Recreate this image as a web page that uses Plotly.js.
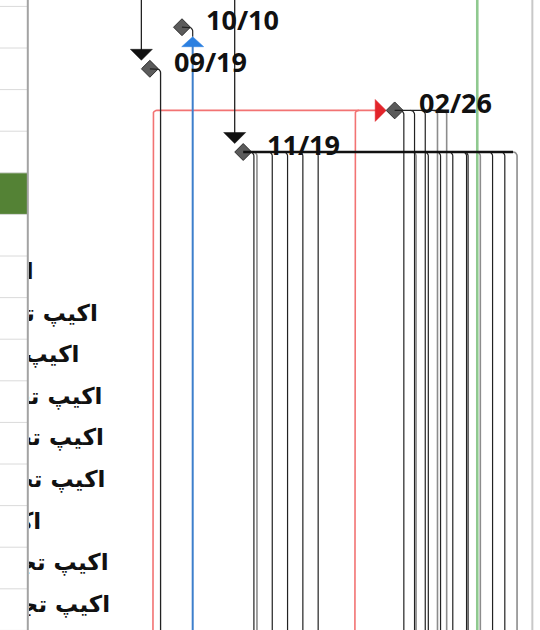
<!DOCTYPE html>
<html><head><meta charset="utf-8">
<script src="https://cdn.plot.ly/plotly-3.0.1.min.js"></script>
<style>html,body{margin:0;padding:0;background:#fff;}#chart{width:540px;height:630px;}</style>
</head><body><div id="chart"></div>
<script>
// ---------------- data ----------------
const milestoneLabels = ['10/10', '09/19', '02/26', '11/19'];
const milestoneDates  = ['2023-10-10', '2023-09-19', '2024-02-26', '2023-11-19'];
const milestoneRows   = [0, 1, 2, 3];

// links coming from tasks above into a milestone (index into milestone arrays)
const incomingMilestones = [1, 3];

// single successor links
const succ0919 = ['2023-09-26'];
const succ1010 = ['2023-10-17'];          // highlighted (blue) link

// successors of 11/19
const succ1119Dark  = ['2023-11-26', '2023-12-08', '2023-12-18', '2023-12-28', '2024-01-07',
                       '2024-03-19', '2024-03-27', '2024-04-04', '2024-04-13', '2024-04-14',
                       '2024-04-30', '2024-05-08'];
const succ1119Light = ['2023-11-28', '2024-03-11', '2024-04-22', '2024-05-16'];
// successors of 02/26
const succ0226Dark  = ['2024-03-03', '2024-03-10', '2024-03-17'];
const succ0226Light = ['2024-03-25', '2024-03-31'];
// critical predecessors of 02/26 (red)
const pred0226 = ['2023-09-21', '2024-01-31'];

const statusDate = '2024-04-20';
const finishDate = '2024-05-26';

const taskRows  = [6, 7, 8, 9, 10, 11, 12, 13, 14];
const taskNames = ['اکیپ تجهیز', 'اکیپ تجهیز', 'اکیپ تجهیز', 'اکیپ تجهیز', 'اکیپ تجهیز',
                   'اکیپ تجهیز', 'اکیپ تجهیز', 'اکیپ تجهیز', 'اکیپ تجهیز'];
const taskLabelEnds = ['2023-07-05', '2023-08-16', '2023-08-04', '2023-08-19', '2023-08-20',
                       '2023-08-21', '2023-07-10', '2023-08-23', '2023-08-24'];

const tableRows = [0, 1, 2, 3, 4, 5, 6, 7, 8, 9, 10, 11, 12, 13, 14, 15];
const selectedRow = 4;

// ---------------- geometry helpers ----------------
const W = 540, H = 630, ML = 29, PW = W - ML;
const X0 = Date.UTC(2023, 6, 2), X1 = Date.UTC(2024, 4, 31);
const Y0 = -0.654, Y1 = 14.49;
const msPerPx = (X1 - X0) / PW;
const rowPerPx = (Y1 - Y0) / H;
const TOP = Y0 - 1, BOTTOM = Y1 + 1;
const toMs = s => Date.parse(s + 'T00:00:00Z');
const fmt = ms => new Date(ms).toISOString().slice(0, 23).replace('T', ' ');
const R = 4;       // corner radius px
const GAP = 8.5;   // half-diagonal of milestone diamond px

function arcDown(x, y) {           // horizontal from left, turning down
  const rX = R * msPerPx, rY = R * rowPerPx, cx = x - rX, cy = y + rY, p = [];
  for (let i = 0; i <= 6; i++) { const t = i / 6 * Math.PI / 2; p.push([cx + rX * Math.sin(t), cy - rY * Math.cos(t)]); }
  return p;
}
function arcUpRight(x, y) {        // vertical from below, turning right
  const rX = R * msPerPx, rY = R * rowPerPx, cx = x + rX, cy = y + rY, p = [];
  for (let i = 0; i <= 6; i++) { const t = i / 6 * Math.PI / 2; p.push([cx - rX * Math.cos(t), cy - rY * Math.sin(t)]); }
  return p;
}
function lineTrace(pts, color, width) {
  return { type: 'scatter', mode: 'lines', x: pts.map(p => p ? fmt(p[0]) : null), y: pts.map(p => p ? p[1] : null),
           line: { color: color, width: width }, hoverinfo: 'skip', connectgaps: false };
}
function polyTrace(pts, color) {
  return { type: 'scatter', mode: 'lines', x: pts.map(p => fmt(p[0])), y: pts.map(p => p[1]),
           fill: 'toself', fillcolor: color, line: { color: color, width: 0.5 }, hoverinfo: 'skip' };
}
function dropLinks(dates, row) {   // vertical successor links hanging from a row
  const pts = [];
  dates.forEach(d => { const x = toMs(d); arcDown(x, row).forEach(p => pts.push(p)); pts.push([x, BOTTOM]); pts.push(null); });
  return pts;
}
function arrowDown(x, tipRow) {
  const hw = 11 * msPerPx, h = 11 * rowPerPx;
  return [[x - hw, tipRow - h], [x + hw, tipRow - h], [x, tipRow], [x - hw, tipRow - h]];
}
function arrowUp(x, tipRow) {
  const hw = 11 * msPerPx, h = 10 * rowPerPx;
  return [[x - hw, tipRow + h], [x + hw, tipRow + h], [x, tipRow], [x - hw, tipRow + h]];
}
function arrowRight(tipX, row) {
  const w = 11 * msPerPx, hh = 11 * rowPerPx;
  return [[tipX - w, row - hh], [tipX - w, row + hh], [tipX, row], [tipX - w, row - hh]];
}

const msX = milestoneDates.map(toMs);
const traces = [];

// status / finish lines
traces.push(lineTrace([[toMs(statusDate), TOP], [toMs(statusDate), BOTTOM]], '#8fc98f', 2.6));
traces.push(lineTrace([[toMs(finishDate), TOP], [toMs(finishDate), BOTTOM]], '#c8c8c8', 2));

// red critical links into 02/26
(function () {
  const row = milestoneRows[2];
  const tip = msX[2] - GAP * msPerPx;
  const pts = [];
  pred0226.forEach((d, i) => {
    const x = toMs(d);
    pts.push([x, BOTTOM]);
    arcUpRight(x, row).forEach(p => pts.push(p));
    if (i === 0) pts.push([tip - 10 * msPerPx, row]);
    pts.push(null);
  });
  traces.push(lineTrace(pts, '#f27373', 1.6));
  traces.push(polyTrace(arrowRight(tip, row), '#e2242a'));
})();

// successor links
traces.push(lineTrace(dropLinks(succ1119Light, milestoneRows[3]), '#8c8c8c', 1.6));
traces.push(lineTrace(dropLinks(succ0226Light, milestoneRows[2]), '#8c8c8c', 1.6));
traces.push(lineTrace(dropLinks(succ1119Dark, milestoneRows[3]), '#222222', 1.2));
traces.push(lineTrace(dropLinks(succ0226Dark, milestoneRows[2]), '#222222', 1.2));

// milestones
traces.push({ type: 'scatter', mode: 'markers', x: milestoneDates, y: milestoneRows, hoverinfo: 'skip',
  marker: { symbol: 'diamond', size: 13, color: '#5b5b5b', line: { color: '#2e2e2e', width: 1 } } });

// horizontal link trunks (drawn over diamonds)
(function () {
  const all1119 = succ1119Dark.concat(succ1119Light).map(toMs);
  const all0226 = succ0226Dark.concat(succ0226Light).map(toMs);
  const rX = R * msPerPx;
  traces.push(lineTrace([[msX[3], milestoneRows[3]], [Math.max(...all1119) - rX, milestoneRows[3]]], '#111111', 2.4));
  traces.push(lineTrace([[msX[2], milestoneRows[2]], [Math.max(...all0226) - rX, milestoneRows[2]]], '#222222', 1.4));
})();

// 09/19 successor
(function () {
  const row = milestoneRows[1], x = toMs(succ0919[0]);
  const pts = [[msX[1], row]].concat(arcDown(x, row)); pts.push([x, BOTTOM]);
  traces.push(lineTrace(pts, '#222222', 1.3));
})();

// 10/10 successor (blue highlighted)
(function () {
  const row = milestoneRows[0], x = toMs(succ1010[0]);
  const tipRow = row + 9.5 * rowPerPx;
  const pts = [[msX[0], row]].concat(arcDown(x, row)); pts.push([x, tipRow]);
  traces.push(lineTrace(pts, '#222222', 1.2));
  traces.push(lineTrace([[x, tipRow + 9 * rowPerPx], [x, BOTTOM]], '#3d7fcc', 2));
  traces.push(polyTrace(arrowUp(x, tipRow), '#2a7fe0'));
})();

// incoming links from above
incomingMilestones.forEach(i => {
  const x = msX[i] - GAP * msPerPx;
  const tipRow = milestoneRows[i] - GAP * rowPerPx;
  traces.push(lineTrace([[x, TOP], [x, tipRow - 10 * rowPerPx]], '#222222', 1.3));
  traces.push(polyTrace(arrowDown(x, tipRow), '#111111'));
});

// task names (clipped by the table divider, as in the source view)
traces.push({ type: 'scatter', mode: 'text', x: taskLabelEnds, y: taskRows.map(r => r - 3.5 * rowPerPx),
  text: taskNames, textposition: 'middle left', cliponaxis: true, hoverinfo: 'skip',
  textfont: { family: 'DejaVu Sans', size: 23, color: '#111111', weight: 'bold' } });

// ---------------- layout ----------------
const rowToPaper = r => 1 - (r - Y0) / (Y1 - Y0);
const shapes = [];
shapes.push({ type: 'rect', xref: 'paper', yref: 'paper', x0: -ML / PW, x1: -2 / PW,
  y0: rowToPaper(selectedRow + 0.5), y1: rowToPaper(selectedRow - 0.5), fillcolor: '#548235', line: { width: 0 }, layer: 'below' });
tableRows.forEach(r => {
  shapes.push({ type: 'line', xref: 'paper', yref: 'paper', x0: -ML / PW, x1: -2 / PW,
    y0: rowToPaper(r - 0.5), y1: rowToPaper(r - 0.5), line: { color: '#dadada', width: 1 } });
});
shapes.push({ type: 'line', xref: 'paper', yref: 'paper', x0: -1.2 / PW, x1: -1.2 / PW, y0: 0, y1: 1,
  line: { color: '#a3a3a3', width: 2 } });

const annotations = milestoneLabels.map((t, i) => ({
  x: milestoneDates[i], y: milestoneRows[i], text: '<b>' + t + '</b>', showarrow: false,
  xanchor: 'left', yanchor: 'middle', xshift: 22, yshift: 7.5,
  font: { family: 'Noto Sans', size: 27, color: '#111111' }
}));

const layout = {
  width: W, height: H, margin: { l: ML, r: 0, t: 0, b: 0, pad: 0 },
  paper_bgcolor: '#ffffff', plot_bgcolor: '#ffffff', showlegend: false, hovermode: false,
  xaxis: { type: 'date', range: [fmt(X0), fmt(X1)], visible: false, showgrid: false, zeroline: false, fixedrange: true },
  yaxis: { range: [Y1, Y0], visible: false, showgrid: false, zeroline: false, fixedrange: true },
  shapes: shapes, annotations: annotations
};

Plotly.newPlot('chart', traces, layout, { staticPlot: true, displayModeBar: false });
</script>
</body></html>
